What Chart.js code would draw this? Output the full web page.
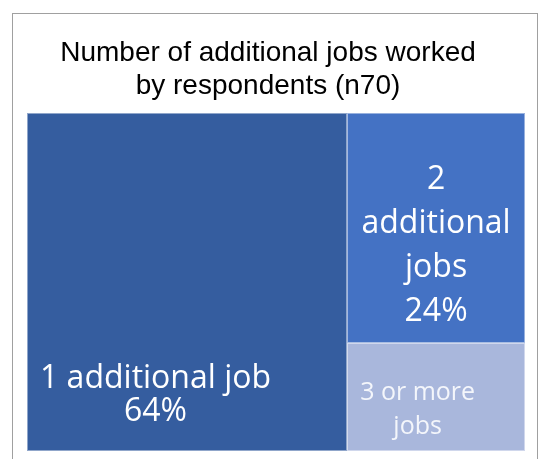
<!DOCTYPE html>
<html><head><meta charset="utf-8">
<script src="https://cdn.jsdelivr.net/npm/chart.js@4.4.0/dist/chart.umd.min.js"></script>
<style>html,body{margin:0;padding:0;background:#fff}#wrap{width:541px;height:459px}</style>
</head><body><div id="wrap"><canvas id="c" width="541" height="459"></canvas></div>
<script>
// ---- data ----
const categories = ['1 additional job', '2 additional jobs', '3 or more jobs'];
const counts = [45, 17, 8];               // respondents, n = 70
const percentLabels = ['64%', '24%', ''];
const cellLabelLines = [
  ['1 additional job', '64%'],
  ['2', 'additional', 'jobs', '24%'],
  ['3 or more', 'jobs']
];
const titleLines = ['Number of additional jobs worked', 'by respondents (n70)'];

// ---- styles ----
const cellColors = ['#355D9F', '#4472C4', '#A9B7DC'];
const cellTextColors = ['#FFFFFF', '#FFFFFF', '#F4F6FB'];

// treemap layout in data units: x 0..total, y 0..1
function layout() {
  const total = counts.reduce((a, b) => a + b, 0);
  const rest = counts[1] + counts[2];
  return [
    {x0: 0, x1: counts[0], y0: 0, y1: 1},
    {x0: counts[0], x1: total, y0: 0, y1: counts[1] / rest},
    {x0: counts[0], x1: total, y0: counts[1] / rest, y1: 1}
  ];
}

const treemapPlugin = {
  id: 'treemap',
  beforeDraw(chart) {
    const ctx = chart.ctx;
    ctx.save();
    ctx.strokeStyle = '#A0A0A0';
    ctx.lineWidth = 1;
    ctx.strokeRect(12.5, 13.5, 525, 470);
    ctx.restore();
  },
  afterDatasetsDraw(chart) {
    const ctx = chart.ctx, xs = chart.scales.x, ys = chart.scales.y;
    const cells = layout();
    ctx.save();
    cells.forEach((c, i) => {
      const L = xs.getPixelForValue(c.x0), R = xs.getPixelForValue(c.x1);
      const T = ys.getPixelForValue(c.y0), B = ys.getPixelForValue(c.y1);
      ctx.fillStyle = cellColors[i];
      ctx.fillRect(L, T, R - L, B - T);
      ctx.strokeStyle = 'rgba(255,255,255,0.45)';
      ctx.lineWidth = 1;
      ctx.strokeRect(Math.round(L) + 0.5, Math.round(T) + 0.5, Math.round(R - L) - 1, Math.round(B - T) - 1);
      c.px = {L, R, T, B};
    });
    // labels
    ctx.textBaseline = 'middle';
    ctx.textAlign = 'center';
    // cell 0: block at bottom-left
    {
      const p = cells[0].px;
      ctx.font = '32px "Open Sans"';
      ctx.fillStyle = cellTextColors[0];
      const lines = cellLabelLines[0];
      const w = Math.max(...lines.map(s => ctx.measureText(s).width));
      const cx = p.L + 13 + w / 2;
      lines.forEach((s, k) => ctx.fillText(s, cx, p.B - 72 + k * 33));
    }
    // cell 1: centered
    {
      const p = cells[1].px;
      ctx.font = '32px "Open Sans"';
      ctx.fillStyle = cellTextColors[1];
      const lines = cellLabelLines[1];
      const cx = (p.L + p.R) / 2, cy = (p.T + p.B) / 2;
      const lh = 44;
      lines.forEach((s, k) => ctx.fillText(s, cx, cy + (k - (lines.length - 1) / 2) * lh + 18));
    }
    // cell 2
    {
      const p = cells[2].px;
      ctx.font = '25px "Open Sans"';
      ctx.fillStyle = cellTextColors[2];
      const lines = cellLabelLines[2];
      const w = Math.max(...lines.map(s => ctx.measureText(s).width));
      const cx = p.L + 13 + w / 2;
      lines.forEach((s, k) => ctx.fillText(s, cx, p.T + 50 + k * 34));
    }
    ctx.restore();
  },
  afterDraw(chart) {
    const ctx = chart.ctx;
    ctx.save();
    ctx.font = '28px "Liberation Sans"';
    ctx.fillStyle = '#000';
    ctx.textAlign = 'center';
    ctx.textBaseline = 'middle';
    titleLines.forEach((s, k) => ctx.fillText(s, 268, 53 + k * 33));
    ctx.restore();
  }
};

new Chart(document.getElementById('c'), {
  type: 'scatter',
  data: { labels: categories, datasets: [{ label: 'jobs', data: [] }] },
  options: {
    responsive: false,
    animation: false,
    layout: { padding: { left: 27, right: 16, top: 113, bottom: 8 } },
    plugins: { legend: { display: false }, tooltip: { enabled: false }, title: { display: false } },
    scales: {
      x: { type: 'linear', min: 0, max: counts.reduce((a, b) => a + b, 0), display: false },
      y: { type: 'linear', min: 0, max: 1, reverse: true, display: false }
    }
  },
  plugins: [treemapPlugin]
});
</script></body></html>
